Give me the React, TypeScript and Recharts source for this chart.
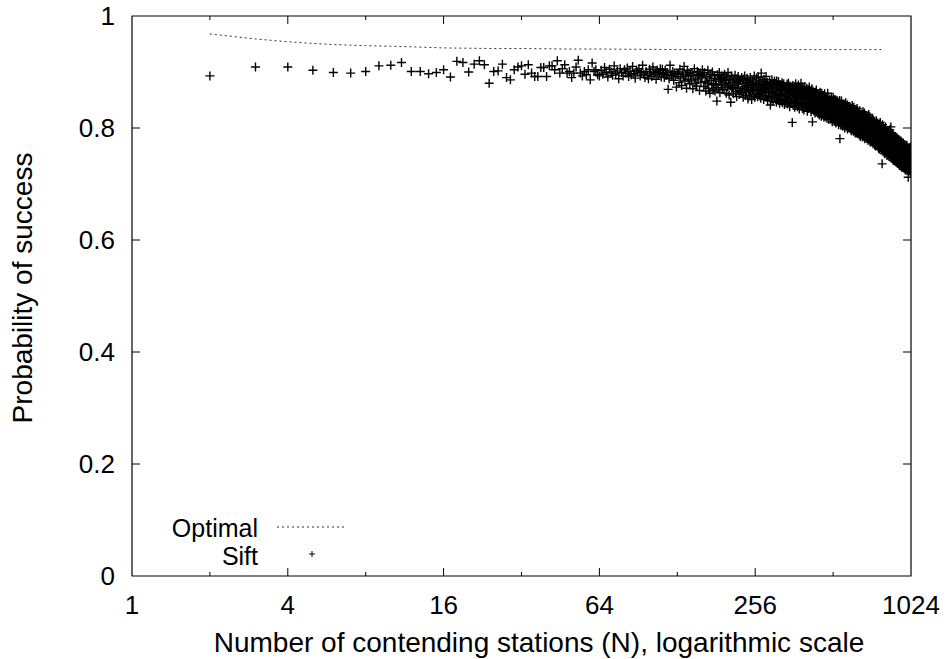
import React from 'react';
import { ComposedChart, Line, Scatter, XAxis, YAxis, ReferenceArea, Legend } from 'recharts';

// Optimal probability of success (dotted curve)
const optimalStations = [2, 3, 4, 5, 6, 8, 10, 12, 16, 24, 32, 48, 64, 128, 256, 512, 800];
const optimalProb = [0.968, 0.959, 0.954, 0.951, 0.949, 0.947, 0.946, 0.945, 0.943, 0.942, 0.942, 0.941, 0.941, 0.94, 0.94, 0.94, 0.94];

// Sift measurements, one per N starting at N = 2, in thousandths
const siftFirstStation = 2;
const siftThousandths = `
893 909 909 903 899 898 901 911 912 917 901 901 897 899 904 891
919 917 900 914 920 913 880 901 902 914 890 886 904 909 911 896 913
898 892 892 908 908 892 911 911 904 920 898 906 913 898 901 890
898 909 921 898 893 901 895 904 886 916 901 904 895 893
903 896 908 899 891 905 900 894 911 897 902 888 906 899 893 904
898 907 892 901 895 910 897 889 903 900 906 893 899 912 896 890
901 894 888 905 898 892 909 896 900 887 903 895 899 906 891 905
897 890 903 894 899 869 888 912 896 893 901 885 898 892 873 896
897 881 905 889 876 900 892 910 884 895 871 903 887 898 879 894
884 899 870 893 906 880 889 875 901 886 895 867 898 882 891 904
895 874 899 883 866 892 880 903 871 889 862 896 885 877 900 868
879 893 866 888 876 848 895 872 884 899 863 887 878 893 869 882
890 868 896 877 885 862 891 873 899 880 859 887 875 846 893 870
872 889 861 884 876 894 865 881 856 888 870 892 879 860 885 867
885 863 890 871 879 855 887 868 893 874 858 882 866 889 876 852
868 884 857 879 890 864 872 851 886 869 881 860 877 893 855 873
880 861 889 868 876 856 891 866 879 859 884 872 853 898 877 864
862 883 869 851 887 874 858 879 866 892 855 871 881 849 876 864
875 856 882 863 841 879 870 852 886 861 873 848 880 866 857 884
853 879 860 871 846 884 867 855 876 849 883 862 874 844 869 858
870 849 876 858 881 845 866 873 852 879 861 842 874 856 868 847
851 872 857 878 843 866 855 880 847 869 861 838 875 853 864 846
866 845 871 810 862 876 840 858 869 849 874 837 861 852 879 843
847 868 852 873 838 861 856 877 842 865 834 859 871 845 853 866
880 841 863 848 869 835 857 871 844 860 832 866 851 874 839 856
843 864 837 858 871 846 830 861 852 868 835 855 844 873 840 859
856 836 866 843 829 861 849 870 833 811 854 840 864 846 831 858
838 859 847 827 864 841 852 832 868 843 829 856 839 861 847 826
851 833 860 839 823 855 844 864 829 848 836 858 821 846 862 834
830 852 841 823 858 835 847 819 855 838 861 828 844 832 853 820
846 824 851 838 817 856 831 862 843 826 849 835 815 852 829 842
823 845 831 850 816 839 828 853 820 842 834 811 848 826 837 855
840 817 846 825 812 851 829 836 814 843 822 850 809 833 847 820
819 842 824 811 848 830 816 839 827 806 845 821 835 813 849 781
834 812 843 820 805 838 826 848 809 831 817 842 803 829 836 815
813 836 818 843 806 829 821 800 839 815 832 809 845 824 803 834
828 805 836 814 841 798 823 811 834 802 826 817 839 807 830 800
806 829 812 837 799 821 832 808 818 795 835 811 826 803 840 815
822 799 831 808 794 826 815 837 802 819 796 833 810 824 791 817
801 825 808 793 831 814 798 822 806 835 790 817 803 828 811 796
818 795 826 801 813 788 822 806 831 797 815 785 824 803 811 792
793 817 801 825 788 810 796 821 784 814 800 829 791 807 819 786
810 787 819 827 794 812 781 806 823 790 815 798 784 817 802 791
789 812 795 821 783 805 816 790 800 778 818 793 809 785 824 797
806 781 813 791 820 786 801 775 810 794 783 817 789 803 777 812
781 803 788 812 776 797 808 784 815 790 772 806 794 780 811 787
798 775 806 784 811 770 793 801 779 808 786 768 804 791 777 813
775 797 781 806 769 790 800 772 809 784 795 766 802 779 788 763
792 768 801 778 807 773 786 762 798 781 810 770 789 776 803 765
769 791 774 798 763 785 777 736 795 771 806 781 760 789 774 800
788 764 795 772 758 783 799 767 790 776 754 794 771 785 761 802
763 785 770 793 757 779 788 762 796 775 751 783 768 791 759 780
782 758 790 766 753 778 794 761 785 769 749 788 774 756 797 764
757 779 764 787 750 772 760 802 782 766 746 776 791 758 770 753
776 751 784 760 745 771 788 756 779 763 742 774 759 786 748 768
751 773 757 781 742 766 777 747 769 755 785 740 763 774 752 770
770 748 778 754 739 764 783 745 767 752 775 737 761 749 780 757
746 768 752 775 736 761 749 779 744 765 733 771 756 741 773 760
765 742 771 750 733 758 777 745 762 738 769 752 730 766 747 774
741 763 747 770 731 756 767 738 759 744 773 729 760 749 765 735
760 737 766 745 728 753 770 741 757 733 764 748 725 761 742 768
737 759 743 766 727 751 762 734 756 740 769 724 753 745 763 731
757 733 763 741 726 749 712 737 760 744 722 754 739 765 730 751
733 756 739 762 724 748 735 759 728 752 741 766 721 746 757 737
`;

const xTicks = [1, 2, 4, 8, 16, 32, 64, 128, 256, 512, 1024];
const xTickLabels = [1, 4, 16, 64, 256, 1024];
const yTicks = [0, 0.2, 0.4, 0.6, 0.8, 1];
const yTickLabels = ['0', '0.2', '0.4', '0.6', '0.8', '1'];

const siftProb = siftThousandths.trim().split(/\s+/).map((v) => Number(v) / 1000);
const siftData = siftProb.map((p, i) => ({ n: siftFirstStation + i, p }));
const optimalData = optimalStations.map((n, i) => ({ n, p: optimalProb[i] }));

const W = 948;
const H = 659;
const LEFT = 132;
const RIGHT = 911;
const TOP = 16;
const BOTTOM = 576;
const FONT = '"Liberation Sans", Arial, Helvetica, sans-serif';

const XTick = (props: any) => {
  const { x, payload } = props;
  const v = payload.value;
  const major = xTickLabels.includes(v);
  const len = major ? 8 : 4;
  const edge = v === 1 || v === 1024;
  return (
    <g>
      {!edge && <line x1={x} x2={x} y1={BOTTOM} y2={BOTTOM - len} stroke="#000" />}
      {!edge && <line x1={x} x2={x} y1={TOP} y2={TOP + len} stroke="#000" />}
      {major && (
        <text x={x} y={BOTTOM + 38} textAnchor="middle" fontSize={26} fontFamily={FONT} fill="#000">
          {v}
        </text>
      )}
    </g>
  );
};

const YTick = (props: any) => {
  const { y, payload } = props;
  const idx = yTicks.indexOf(payload.value);
  const edge = idx === 0 || idx === yTicks.length - 1;
  return (
    <g>
      {!edge && <line x1={LEFT} x2={LEFT + 8} y1={y} y2={y} stroke="#000" />}
      {!edge && <line x1={RIGHT} x2={RIGHT - 8} y1={y} y2={y} stroke="#000" />}
      <text x={LEFT - 17} y={y + 9} textAnchor="end" fontSize={26} fontFamily={FONT} fill="#000">
        {yTickLabels[idx]}
      </text>
    </g>
  );
};

const Cross = (props: any) => {
  const { cx, cy } = props;
  if (cx == null || cy == null) return null;
  const h = 4.5;
  return <path d={`M${cx - h},${cy}H${cx + h}M${cx},${cy - h}V${cy + h}`} stroke="#000" strokeWidth={1.4} fill="none" />;
};

const renderLegend = () => (
  <svg width={220} height={62} style={{ overflow: 'visible' }}>
    <text x={108} y={27} textAnchor="end" fontSize={25} fontFamily={FONT} fill="#000">Optimal</text>
    <line x1={127} x2={195} y1={17} y2={17} stroke="#333" strokeDasharray="2 3" />
    <text x={108} y={55} textAnchor="end" fontSize={25} fontFamily={FONT} fill="#000">Sift</text>
    <path d="M159,44H165M162,41V47" stroke="#000" fill="none" />
  </svg>
);

export default function App() {
  return (
    <div style={{ position: 'absolute', left: 0, top: 0, width: W, height: H, background: '#fff' }}>
      <ComposedChart width={W} height={H} margin={{ top: TOP, right: W - RIGHT, bottom: 0, left: 0 }}>
        <XAxis
          dataKey="n"
          type="number"
          scale="log"
          domain={[1, 1024]}
          ticks={xTicks}
          interval={0}
          height={H - BOTTOM}
          tickSize={0}
          tickLine={false}
          axisLine={false}
          tick={<XTick />}
          allowDataOverflow
        />
        <YAxis
          dataKey="p"
          type="number"
          domain={[0, 1]}
          ticks={yTicks}
          interval={0}
          width={LEFT}
          tickSize={0}
          tickLine={false}
          axisLine={false}
          tick={<YTick />}
        />
        <ReferenceArea x1={1} x2={1024} y1={0} y2={1} fill="none" stroke="#000" strokeWidth={1.2} fillOpacity={0} />
        <Line
          data={optimalData}
          dataKey="p"
          stroke="#333"
          strokeWidth={1}
          strokeDasharray="2 3"
          dot={false}
          activeDot={false}
          isAnimationActive={false}
        />
        <Scatter data={siftData} dataKey="p" shape={<Cross />} isAnimationActive={false} />
        <Legend
          layout="vertical"
          align="center"
          verticalAlign="middle"
          content={renderLegend}
          wrapperStyle={{ left: 150, top: 510, width: 220, height: 62 }}
        />
        <text x={539} y={652} textAnchor="middle" fontSize={28} fontFamily={FONT} fill="#000">
          Number of contending stations (N), logarithmic scale
        </text>
        <text
          x={32}
          y={288}
          transform="rotate(-90 32 288)"
          textAnchor="middle"
          fontSize={28}
          fontFamily={FONT}
          fill="#000"
        >
          Probability of success
        </text>
      </ComposedChart>
    </div>
  );
}
